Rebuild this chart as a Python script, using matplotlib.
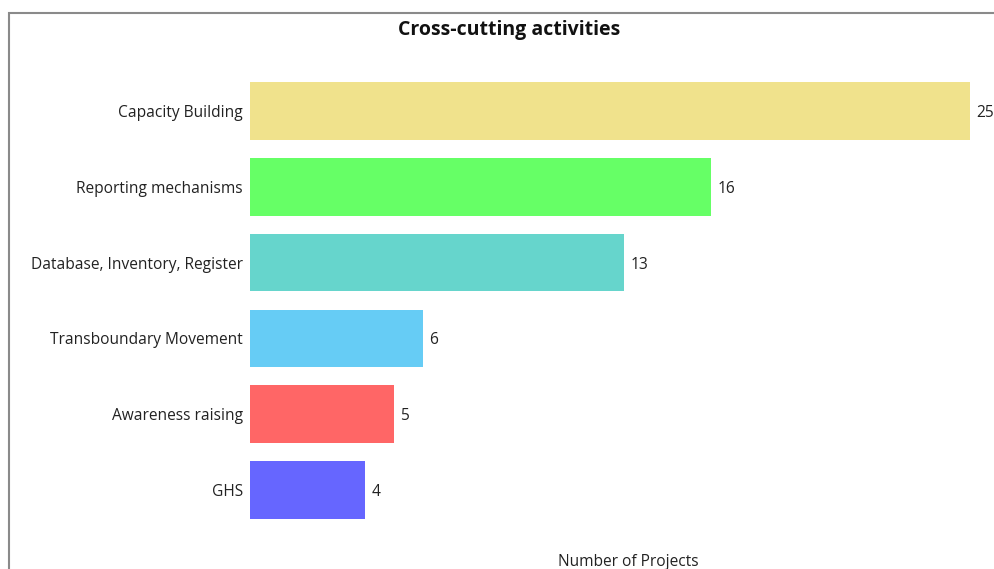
import matplotlib.pyplot as plt
from matplotlib.patches import Rectangle

categories = ["Capacity Building", "Reporting mechanisms", "Database, Inventory, Register",
              "Transboundary Movement", "Awareness raising", "GHS"]
counts = [25, 16, 13, 6, 5, 4]
colors = ["#F0E28C", "#66FF66", "#66D5CC", "#66CCF5", "#FF6666", "#6666FF"]

plt.rcParams['font.family'] = ['Open Sans', 'DejaVu Sans']

W, H = 995, 569
fig = plt.figure(figsize=(W / 100, H / 100), dpi=100)
ax = fig.add_axes([250 / W, 1 - 528 / H, 720 / W, (528 - 73) / H])

ypos = list(range(len(categories)))
ax.barh(ypos, counts, height=0.76, color=colors)
ax.set_xlim(0, 25)
ax.set_ylim(len(categories) - 0.5, -0.5)
ax.set_yticks(ypos)
ax.set_yticklabels(categories, fontsize=11.2, color="#222222", va='center_baseline')
ax.tick_params(axis='y', length=0, pad=5)
ax.set_xticks([])
for s in ax.spines.values():
    s.set_visible(False)

for y, v in zip(ypos, counts):
    ax.text(v + 0.22, y, str(v), va='center_baseline', ha='left', fontsize=11.2, color="#222222")

fig.text(509 / W, 1 - 30 / H, "Cross-cutting activities", ha='center', va='center',
         fontsize=14, fontweight='bold', color="#111111")
fig.text(628 / W, 1 - 562 / H, "Number of Projects", ha='center', va='center',
         fontsize=11.2, color="#222222")

fig.patches.append(Rectangle((9 / W, -0.1), 1.2, 1 - 13 / H + 0.1, transform=fig.transFigure,
                             fill=False, edgecolor="#8a8a8a", linewidth=1.5))

fig.savefig("out.png", dpi=100)
